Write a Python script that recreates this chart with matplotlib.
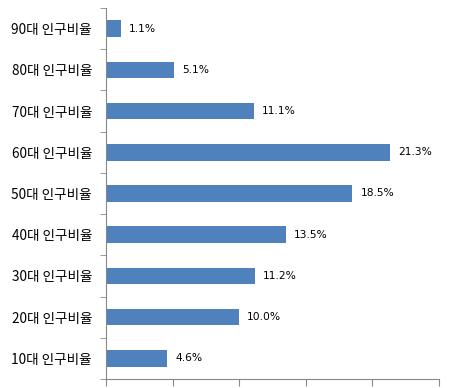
import matplotlib
matplotlib.use('Agg')
from matplotlib import pyplot as plt
import numpy as np

categories = ['10대 인구비율', '20대 인구비율', '30대 인구비율', '40대 인구비율', '50대 인구비율',
              '60대 인구비율', '70대 인구비율', '80대 인구비율', '90대 인구비율']
values = [4.6, 10.0, 11.2, 13.5, 18.5, 21.3, 11.1, 5.1, 1.1]

plt.rcParams['font.family'] = ['Noto Sans CJK KR', 'DejaVu Sans']

fig = plt.figure(figsize=(4.62, 3.88), dpi=100)
ax = fig.add_axes([106 / 462, 9 / 388, 333 / 462, 371 / 388])

pos = np.arange(len(categories))
ax.barh(pos, values, height=0.4, color='#4F81BD')
for p, v in zip(pos, values):
    ax.text(v + 0.6, p, '%.1f%%' % v, va='center', ha='left', fontsize=7.7,
            family='DejaVu Sans', color='black')

ax.set_xlim(0, 25)
ax.set_ylim(-0.5, len(categories) - 0.5)
ax.set_xticks([0, 5, 10, 15, 20, 25])
ax.set_xticklabels([])
ax.set_yticks(pos)
ax.set_yticklabels(categories, fontsize=9.8, color='black')
ax.set_yticks(np.arange(-0.5, len(categories), 1.0), minor=True)
ax.tick_params(axis='y', which='major', length=0, pad=10)
ax.tick_params(axis='y', which='minor', length=4, color='#888888', direction='out')
ax.tick_params(axis='x', length=5, color='#888888', direction='out')

for s in ['top', 'right']:
    ax.spines[s].set_visible(False)
for s in ['left', 'bottom']:
    ax.spines[s].set_color('#888888')

fig.savefig('out.png', dpi=100)
